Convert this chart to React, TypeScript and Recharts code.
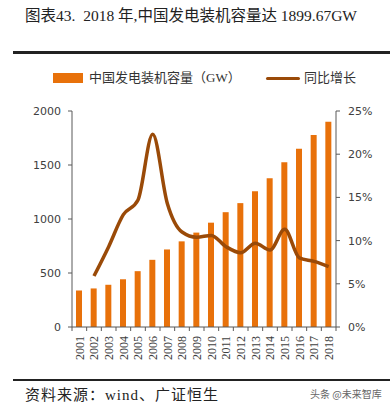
import React from "react";
import { Bar, ComposedChart, Line, XAxis, YAxis } from "recharts";

const years = [
  "2001", "2002", "2003", "2004", "2005", "2006", "2007", "2008", "2009",
  "2010", "2011", "2012", "2013", "2014", "2015", "2016", "2017", "2018",
];
const capacity = [338, 357, 391, 442, 517, 622, 718, 793, 874, 966, 1063, 1147, 1258, 1378, 1525, 1651, 1777, 1900];
const growth = [null, 5.9, 9.3, 13.0, 14.7, 22.3, 14.3, 11.0, 10.4, 10.6, 9.3, 8.6, 9.7, 8.9, 11.3, 8.0, 7.6, 7.0];
const leftTicks = [0, 500, 1000, 1500, 2000];
const rightTicks = [0, 5, 10, 15, 20, 25];

const data = years.map((year, i) => ({ year, capacity: capacity[i], growth: growth[i] }));

const BAR_COLOR = "#E8710A";
const LINE_COLOR = "#9A4A08";
const AXIS_COLOR = "#595959";
const SERIF = '"Liberation Serif", "Noto Sans CJK SC", serif';
const SANS = '"DejaVu Sans", sans-serif';

const PLOT_LEFT = 72;
const PLOT_RIGHT = 336;

function YearTick(props: any) {
  const { x, y, payload, index } = props;
  const half = (PLOT_RIGHT - PLOT_LEFT) / years.length / 2;
  return (
    <g>
      <line x1={x + half} x2={x + half} y1={y} y2={y + 4} stroke={AXIS_COLOR} />
      {index === 0 && <line x1={x - half} x2={x - half} y1={y} y2={y + 4} stroke={AXIS_COLOR} />}
      <text
        x={x}
        y={y + 9}
        transform={`rotate(-90, ${x}, ${y + 9})`}
        textAnchor="end"
        dy="0.35em"
        fontSize={12}
        fontFamily={SERIF}
        fill="#404040"
      >
        {payload.value}
      </text>
    </g>
  );
}

export default function App() {
  return (
    <div
      style={{
        position: "absolute",
        left: 0,
        top: 0,
        width: 390,
        height: 407,
        background: "#fff",
        fontFamily: SERIF,
      }}
    >
      <div style={{ position: "absolute", left: 25, top: 3, fontSize: 15.5, color: "#222", whiteSpace: "nowrap" }}>
        图表43.&nbsp; 2018 年,中国发电装机容量达 1899.67GW
      </div>
      <div style={{ position: "absolute", left: 13, top: 51, width: 377, height: 3, background: "#222" }} />

      {/* legend */}
      <div style={{ position: "absolute", left: 53, top: 73, width: 30, height: 10, background: BAR_COLOR }} />
      <div
        style={{ position: "absolute", left: 89, top: 69, fontSize: 13, color: "#333", whiteSpace: "nowrap", lineHeight: "18px" }}
      >
        中国发电装机容量（GW）
      </div>
      <div style={{ position: "absolute", left: 266, top: 77, width: 34, height: 3, background: LINE_COLOR, borderRadius: 2 }} />
      <div
        style={{ position: "absolute", left: 304, top: 69, fontSize: 13, color: "#333", whiteSpace: "nowrap", lineHeight: "18px" }}
      >
        同比增长
      </div>

      <div style={{ position: "absolute", left: 0, top: 0 }}>
        <ComposedChart width={390} height={407} data={data} margin={{ top: 111, right: 0, bottom: 40, left: 0 }}>
          <XAxis
            dataKey="year"
            interval={0}
            tickLine={false}
            tickSize={0}
            tickMargin={0}
            height={40}
            axisLine={{ stroke: AXIS_COLOR }}
            tick={<YearTick />}
          />
          <YAxis
            yAxisId="left"
            width={72}
            domain={[0, 2000]}
            ticks={leftTicks}
            tickSize={4}
            tickMargin={7}
            axisLine={{ stroke: AXIS_COLOR }}
            tickLine={{ stroke: AXIS_COLOR }}
            tick={{ fontSize: 11, fontFamily: SANS, fill: "#404040" }}
          />
          <YAxis
            yAxisId="right"
            orientation="right"
            width={54}
            domain={[0, 25]}
            ticks={rightTicks}
            tickFormatter={(v: number) => `${v}%`}
            tickSize={4}
            tickMargin={8}
            axisLine={{ stroke: AXIS_COLOR }}
            tickLine={{ stroke: AXIS_COLOR }}
            tick={{ fontSize: 11, fontFamily: SANS, fill: "#404040" }}
          />
          <Bar yAxisId="left" dataKey="capacity" fill={BAR_COLOR} barSize={6} isAnimationActive={false} />
          <Line
            yAxisId="right"
            type="monotone"
            dataKey="growth"
            stroke={LINE_COLOR}
            strokeWidth={3.5}
            dot={false}
            activeDot={false}
            connectNulls={false}
            isAnimationActive={false}
          />
        </ComposedChart>
      </div>

      <div style={{ position: "absolute", left: 13, top: 379, width: 377, height: 2, background: "#222" }} />
      <div
        style={{ position: "absolute", left: 25, top: 383, fontSize: 15, letterSpacing: 1, color: "#222", whiteSpace: "nowrap" }}
      >
        资料来源：wind、广证恒生
      </div>
      <div
        style={{
          position: "absolute",
          left: 310,
          top: 386,
          fontSize: 10,
          color: "#666",
          fontFamily: '"Noto Sans CJK SC", sans-serif',
          whiteSpace: "nowrap",
        }}
      >
        头条 @未来智库
      </div>
    </div>
  );
}
